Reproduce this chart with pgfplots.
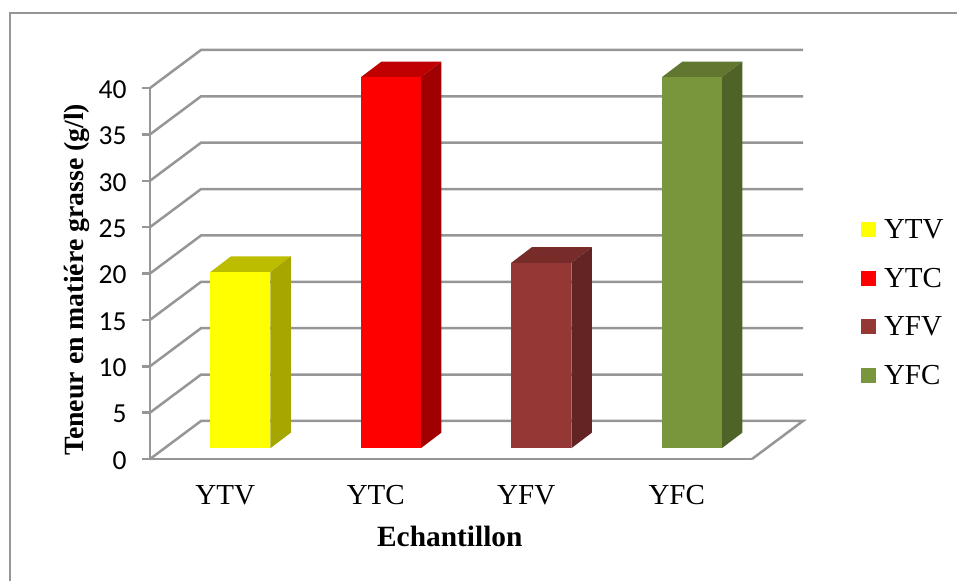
\documentclass[border=0pt]{standalone}
\usepackage{fontspec}
\usepackage{pgfplots}
\pgfplotsset{compat=1.18}
\setmainfont{Liberation Serif}
\newfontfamily\calibri{Carlito}
\definecolor{axgray}{HTML}{969696}
\definecolor{yellowfront}{HTML}{FFFF00}
\definecolor{yellowtop}{HTML}{BDBD00}
\definecolor{yellowside}{HTML}{A6A600}
\definecolor{redfront}{HTML}{FF0000}
\definecolor{redtop}{HTML}{C00000}
\definecolor{redside}{HTML}{A00000}
\definecolor{brownfront}{HTML}{953735}
\definecolor{browntop}{HTML}{772C2A}
\definecolor{brownside}{HTML}{632523}
\definecolor{greenfront}{HTML}{7A963C}
\definecolor{greentop}{HTML}{617730}
\definecolor{greenside}{HTML}{4F6228}
\pgfplotsset{
  wall/.style={axgray,line width=2.5pt,forget plot},
  face/.style={fill=#1,draw=none,forget plot},
  sq/.style={legend image code/.code={\fill[##1,draw=none] (0pt,-7.5pt) rectangle (15pt,7.5pt);\path (21.5pt,0pt);}},
  front/.style={ybar,bar width=60pt,bar shift=0pt,fill=#1,draw=none,sq},
}
\begin{document}
\begin{tikzpicture}
\path[use as bounding box] (0pt,0pt) rectangle (957pt,581pt);
\draw[axgray,line width=2.5pt] (10pt,0pt) -- (10pt,568pt) -- (957pt,568pt);
% walls and floor
\begin{axis}[
  at={(150pt,122pt)}, anchor=south west,
  scale only axis, width=602pt, height=371pt,
  xmin=-0.5, xmax=3.5, ymin=0, ymax=40,
  clip=false,
  axis lines=left, axis line style={-,axgray,line width=2.5pt},
  xtick={0,1,2,3}, xticklabels={YTV,YTC,YFV,YFC},
  ytick={0,5,...,40},
  tick align=outside,
  major tick length=8pt,
  y tick style={axgray,line width=2.5pt},
  x tick style={draw=none},
  /pgf/number format/assume math mode=true,
  yticklabel style={font=\fontsize{27.5}{30}\selectfont\calibri,xshift=-12pt,yshift=-1.5pt},
  xticklabel style={font=\fontsize{29}{31}\selectfont,yshift=-15pt},
  xlabel={Echantillon},
  xlabel style={at={(axis description cs:0.498,-0.2075)},anchor=center,font=\fontsize{29.4}{31}\selectfont\bfseries},
  ylabel={Teneur en matiére grasse (g/l)},
  ylabel style={at={(axis description cs:-0.1213,0.483)},anchor=center,font=\fontsize{27.8}{30}\selectfont\bfseries},
]
\addplot[wall] coordinates {(-0.5,0) (-0.161,4.1) (3.839,4.1) (3.5,0)};
\addplot[wall] coordinates {(-0.5,5) (-0.161,9.1) (3.839,9.1)};
\addplot[wall] coordinates {(-0.5,10) (-0.161,14.1) (3.839,14.1)};
\addplot[wall] coordinates {(-0.5,15) (-0.161,19.1) (3.839,19.1)};
\addplot[wall] coordinates {(-0.5,20) (-0.161,24.1) (3.839,24.1)};
\addplot[wall] coordinates {(-0.5,25) (-0.161,29.1) (3.839,29.1)};
\addplot[wall] coordinates {(-0.5,30) (-0.161,34.1) (3.839,34.1)};
\addplot[wall] coordinates {(-0.5,35) (-0.161,39.1) (3.839,39.1)};
\addplot[wall] coordinates {(-0.5,40) (-0.161,44.1) (3.839,44.1)};
\end{axis}
% bars, same scale, moved onto the floor
\begin{axis}[
  at={(165pt,132.7pt)}, anchor=south west,
  scale only axis, width=602pt, height=371pt,
  xmin=-0.5, xmax=3.5, ymin=0, ymax=40,
  clip=false, hide axis,
  legend style={at={(rel axis cs:1.155,0.623)},anchor=north west,draw=none,fill=none,
    font=\fontsize{29}{31}\selectfont,row sep=24pt,inner sep=0pt},
  legend cell align=left,
]
% YTV
\addplot[face=yellowtop] coordinates {(-0.1993,19) (0.1993,19) (0.3368,20.693) (-0.0618,20.693)} -- cycle;
\addplot[face=yellowside] coordinates {(0.1993,0) (0.1993,19) (0.3368,20.693) (0.3368,1.693)} -- cycle;
\addplot[front=yellowfront] coordinates {(0,19)};
\addlegendentry{YTV}
% YTC
\addplot[face=redtop] coordinates {(0.8007,40) (1.1993,40) (1.3368,41.693) (0.9382,41.693)} -- cycle;
\addplot[face=redside] coordinates {(1.1993,0) (1.1993,40) (1.3368,41.693) (1.3368,1.693)} -- cycle;
\addplot[front=redfront] coordinates {(1,40)};
\addlegendentry{YTC}
% YFV
\addplot[face=browntop] coordinates {(1.8007,20) (2.1993,20) (2.3368,21.693) (1.9382,21.693)} -- cycle;
\addplot[face=brownside] coordinates {(2.1993,0) (2.1993,20) (2.3368,21.693) (2.3368,1.693)} -- cycle;
\addplot[front=brownfront] coordinates {(2,20)};
\addlegendentry{YFV}
% YFC
\addplot[face=greentop] coordinates {(2.8007,40) (3.1993,40) (3.3368,41.693) (2.9382,41.693)} -- cycle;
\addplot[face=greenside] coordinates {(3.1993,0) (3.1993,40) (3.3368,41.693) (3.3368,1.693)} -- cycle;
\addplot[front=greenfront] coordinates {(3,40)};
\addlegendentry{YFC}
\end{axis}
\end{tikzpicture}
\end{document}
